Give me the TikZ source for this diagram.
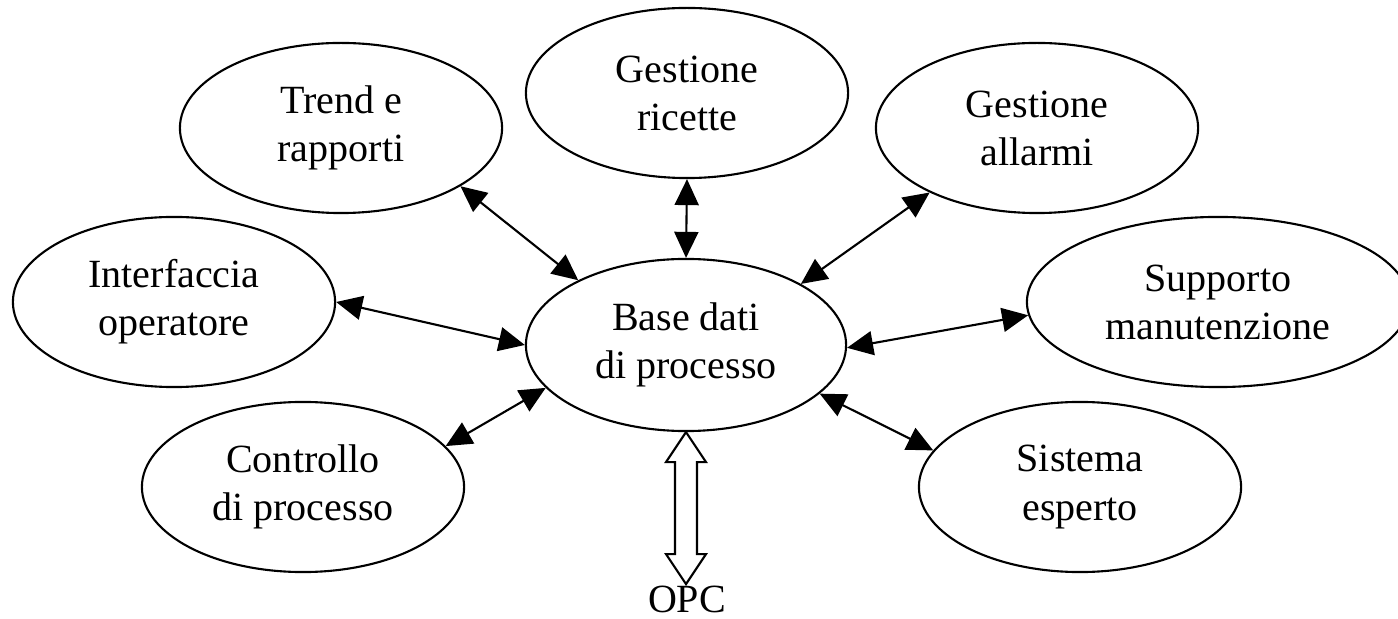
\documentclass[tikz,border=0pt]{standalone}
\usepackage{fontspec}
\setmainfont{Liberation Serif}
\usetikzlibrary{shapes.geometric,arrows.meta}
\begin{document}
\begin{tikzpicture}[x=0.01cm,y=-0.01cm,
  every node/.style={font=\fontsize{11.38pt}{13.66pt}\selectfont},
  bubble/.style={ellipse, draw, line width=0.6pt, inner sep=0pt,
    minimum width=3.22cm, minimum height=1.70cm, align=center},
  link/.style={{Triangle[length=2.6mm,width=2.4mm]}-{Triangle[length=2.6mm,width=2.4mm]}, line width=0.6pt},
  hollow/.style={draw, line width=0.6pt, fill=white, line join=miter}]
\useasboundingbox (0,0) rectangle (1398,619);
\node[bubble] (ric) at (687,93) {Gestione\\ricette};
\node[bubble] (tre) at (341,128) {Trend e\\rapporti};
\node[bubble] (all) at (1037,128) {Gestione\\allarmi};
\node[bubble] (int) at (174,302) {Interfaccia\\operatore};
\node[bubble, minimum width=3.20cm, minimum height=1.72cm] (base) at (686,345) {Base dati\\di processo};
\node[bubble, minimum width=3.82cm] (sup) at (1218,302) {Supporto\\manutenzione};
\node[bubble] (con) at (303,487) {Controllo\\di processo};
\node[bubble] (sis) at (1080,487) {Sistema\\esperto};
\node[anchor=base, inner sep=0pt] (opc) at (687,612) {OPC};

\draw[link] (ric.-90) -- (base.90);
\draw[link] (tre.-26) -- (base.149);
\draw[link] (all.-149) -- (base.28);
\draw[link] (int.0) -- (base.180);
\draw[link] (con.16) -- (base.197);
\draw[link] (base.-1) -- (sup.184);
\draw[link] (base.-20) -- (sis.166);

\path[hollow] (base.south) -- ++(20,30) -- ++(-9,0) -- ++(0,92) -- ++(9,0)
  -- ++(-20,30) -- ++(-20,-30) -- ++(9,0) -- ++(0,-92) -- ++(-9,0) -- cycle;
\end{tikzpicture}
\end{document}
